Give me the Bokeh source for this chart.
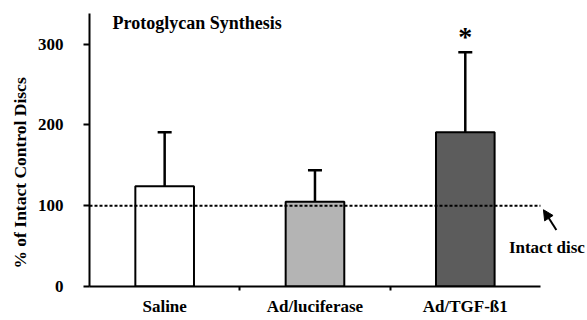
from bokeh.plotting import figure
from bokeh.models import (ColumnDataSource, Range1d, FixedTicker, Whisker, TeeHead,
                          Label, Arrow, NormalHead, Title)
from bokeh.core.properties import value
from bokeh.embed import file_html
from bokeh.resources import INLINE

# ---- data ----
categories = ["Saline", "Ad/luciferase", "Ad/TGF-ß1"]
means = [124, 105, 191]
upper_err = [191, 144, 290]
bar_colors = ["#ffffff", "#b4b4b4", "#5c5c5c"]
significant = ["", "", "*"]
y_ticks = [0, 100, 200, 300]
reference_level = 100
title_text = "Protoglycan Synthesis"
y_label = "% of Intact Control Discs"
ref_label = "Intact disc"

FONT = "Liberation Serif"

n = len(categories)
xs = [i + 1 for i in range(n)]
x_lo, x_hi = 0.5, n + 0.5
y_axis_top = 338

src = ColumnDataSource(dict(x=xs, top=means, upper=upper_err, color=bar_colors,
                            star=significant,
                            star_y=[u + 20 for u in upper_err]))

p = figure(width=587, height=320, output_backend="svg", toolbar_location=None,
           x_range=Range1d(x_lo, 3.813), y_range=Range1d(0, 354),
           min_border_left=89, min_border_right=0, min_border_top=0, min_border_bottom=34)
p.outline_line_color = None
p.grid.visible = False
p.background_fill_color = "white"

# bars
p.vbar(x="x", top="top", width=0.39, bottom=0, source=src,
       fill_color="color", line_color="black", line_width=2)

# upper error bars
w = Whisker(base="x", lower="top", upper="upper", source=src,
            line_color="black", line_width=2.5,
            upper_head=TeeHead(size=14, line_color="black", line_width=2.5),
            lower_head=None)
p.add_layout(w)

# reference dotted line across the category span
p.segment(x0=[x_lo], x1=[x_hi], y0=[reference_level], y1=[reference_level],
          line_color="black", line_width=2, line_dash="3 2")

# significance star
p.text(x="x", y="star_y", text="star", source=src, text_font=value(FONT),
       text_font_style="bold", text_font_size="28px", text_align="center",
       text_baseline="alphabetic", text_color="black")

# axes
xa = p.xaxis[0]
xa.bounds = (x_lo, x_hi)
xa.ticker = FixedTicker(ticks=xs, minor_ticks=[1.5, 2.5])
xa.major_label_overrides = {x: c for x, c in zip(xs, categories)}
xa.major_tick_in = 0
xa.major_tick_out = 0
xa.minor_tick_in = 0
xa.minor_tick_out = 4
xa.minor_tick_line_width = 2
xa.axis_line_width = 2
xa.major_label_standoff = 6
xa.major_label_text_font = FONT
xa.major_label_text_font_style = "bold"
xa.major_label_text_font_size = "17px"
xa.major_label_text_color = "black"

ya = p.yaxis[0]
ya.bounds = (0, y_axis_top)
ya.ticker = FixedTicker(ticks=y_ticks, minor_ticks=[])
ya.major_tick_in = 0
ya.major_tick_out = 6
ya.major_tick_line_width = 2
ya.axis_line_width = 2
ya.major_label_standoff = 20
ya.major_label_text_font = FONT
ya.major_label_text_font_style = "bold"
ya.major_label_text_font_size = "17px"
ya.major_label_text_color = "black"

# y-axis title
p.add_layout(Title(text=y_label, align="left", offset=18, standoff=10,
                   text_font=FONT, text_font_style="bold", text_font_size="17.5px",
                   text_color="black"), "left")

# chart title
p.add_layout(Label(x=0.653, y=326, text=title_text, text_font=FONT,
                   text_font_style="bold", text_font_size="18px",
                   text_align="left", text_baseline="alphabetic", text_color="black"))

# "Intact disc" annotation with arrow
p.add_layout(Arrow(end=NormalHead(size=10, fill_color="black", line_color="black"),
                   x_start=3.606, y_start=70, x_end=3.52, y_end=95,
                   line_color="black", line_width=2))
p.add_layout(Label(x=3.29, y=48, text=ref_label, text_font=FONT,
                   text_font_style="bold", text_font_size="17px",
                   text_align="left", text_baseline="middle", text_color="black"))

open("out.html", "w").write(file_html(p, INLINE))
